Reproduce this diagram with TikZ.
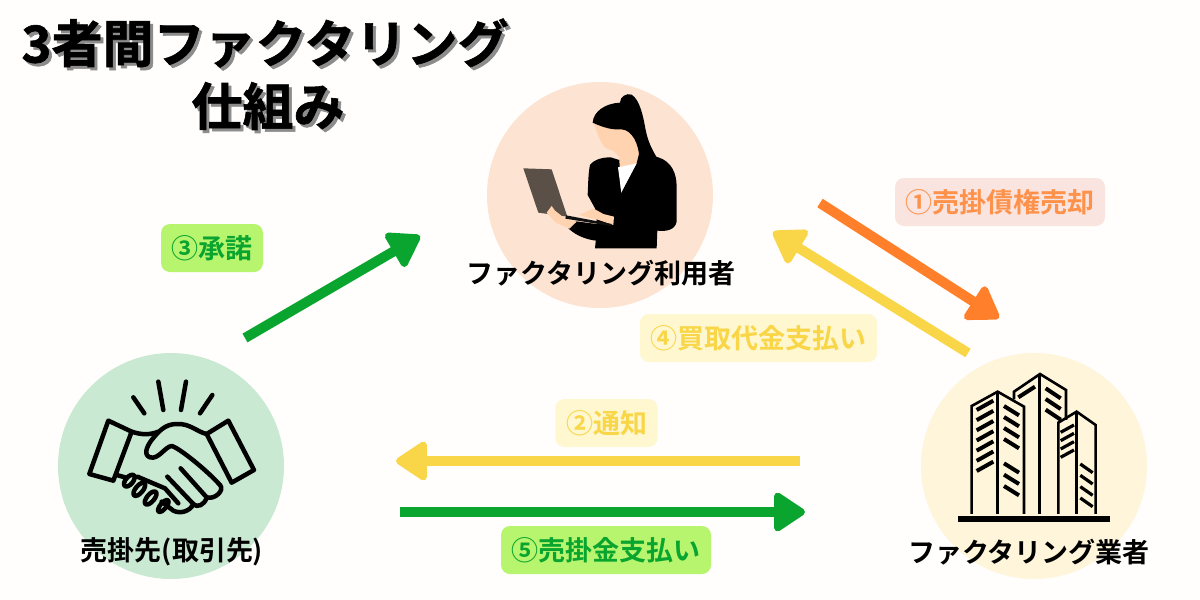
\documentclass[tikz,border=0pt]{standalone}
\usepackage{fontspec}
\setmainfont{Noto Sans CJK JP}[BoldFont={Noto Sans CJK JP Bold}]
\newfontfamily\titlefont{Noto Sans CJK JP Bold}[FakeBold=1.2]
\usetikzlibrary{arrows.meta}
\definecolor{bgc}{HTML}{FFFEFC}
\definecolor{peach}{HTML}{FDE3D2}
\definecolor{mint}{HTML}{C9E9D2}
\definecolor{cream}{HTML}{FEF5DA}
\definecolor{orangeA}{HTML}{FF7F2A}
\definecolor{yellowA}{HTML}{F9D648}
\definecolor{greenA}{HTML}{0AA52F}
\definecolor{pinkB}{HTML}{F9E4E0}
\definecolor{yellowB}{HTML}{FEF7CF}
\definecolor{greenB}{HTML}{B8F56E}
\definecolor{skin}{HTML}{FFD2B0}
\definecolor{lap}{HTML}{5A5048}
\tikzset{
 disc/.style={circle,minimum size=226pt,inner sep=0pt,draw=none},
 tag/.style={rounded corners=9pt,inner sep=0pt,minimum height=48pt,font=\fontsize{27}{27}\selectfont\bfseries},
 who/.style={inner sep=0pt,font=\fontsize{27}{27}\selectfont\bfseries,text=black},
 bigarrow/.style={line width=10pt,-{Triangle[round,length=34pt,width=43pt,line width=7pt]}},
 titletext/.style={inner sep=0pt,font=\fontsize{51}{51}\selectfont\titlefont},
 ink/.style={draw=black,line width=#1,line cap=round,line join=round},
 win/.style={draw=black,line width=4pt},
 wall/.style={draw=black,line width=2.6pt,line join=miter}
}
\begin{document}
\begin{tikzpicture}[x=1pt,y=-1pt]
\useasboundingbox (0,0) rectangle (1200,600);
\fill[bgc] (0,0) rectangle (1200,600);
% discs
\node[disc,fill=peach] (user) at (600,195) {};
\node[disc,fill=mint] (client) at (171,466) {};
\node[disc,fill=cream] (factor) at (1034,466) {};
% woman
\begin{scope}[shift={(480,80)},x=.3333pt,y=-.3333pt]
\fill[skin] (340,125) -- (420,120) -- (475,170) -- (478,250) -- (420,262) -- (418,232) .. controls (405,212) and (395,210) .. (385,208) .. controls (365,200) and (355,170) .. (340,125) -- cycle;
\fill[black] (338,128) .. controls (340,95) and (375,70) .. (420,68) .. controls (420,50) and (440,38) .. (455,44) .. controls (480,60) and (490,110) .. (497,150) .. controls (505,190) and (520,215) .. (535,240) -- (478,240) .. controls (478,190) and (455,150) .. (425,148) .. controls (400,150) and (375,145) .. (338,128) -- cycle;
\fill[black] (330,255) .. controls (345,235) and (375,232) .. (392,232) -- (418,240) -- (423,340) -- (470,250) -- (478,218) -- (535,232) .. controls (575,245) and (590,280) .. (590,320) -- (590,425) .. controls (585,450) and (560,455) .. (532,452) -- (530,505) -- (345,505) -- (352,435) -- (345,385) -- (323,345) .. controls (325,300) and (325,280) .. (330,255) -- cycle;
\fill[black] (288,424) -- (395,438) -- (400,500) -- (350,482) .. controls (320,480) and (285,465) .. (265,445) -- cycle;
\fill[white] (414,262) -- (470,250) -- (424,336) -- cycle;
\fill[lap] (130,265) -- (215,268) -- (262,410) -- (175,398) -- cycle;
\fill[skin] (200,398) -- (215,378) -- (225,392) -- (258,418) -- (290,425) -- (268,446) -- (228,428) -- cycle;
\fill[skin] (298,405) -- (340,385) -- (370,402) -- (402,410) -- (400,435) -- (350,418) -- (320,412) -- cycle;
\fill[black!80!lap] (258,406) -- (395,432) -- (392,438) -- (256,416) -- cycle;
\end{scope}
% handshake
\begin{scope}[shift={(50,360)},x=.3333pt,y=-.3333pt]
\begin{scope}[ink=4.5pt]
\draw (250,112) -- (283,160);
\draw (325,65) -- (340,150);
\draw (408,65) -- (393,150);
\draw (487,105) -- (450,160);
\draw (175,182) -- (245,215) -- (190,362) -- (118,342) -- cycle;
\draw (535,182) -- (612,330) -- (545,368) -- (470,222) -- cycle;
\draw (245,215) .. controls (275,225) and (300,225) .. (325,215);
\draw (470,222) .. controls (440,215) and (420,190) .. (380,192) .. controls (345,192) and (325,215) .. (305,240) .. controls (290,260) and (280,285) .. (300,292) .. controls (325,300) and (345,260) .. (365,258) .. controls (385,262) and (470,330) .. (510,375);
\draw (510,375) .. controls (525,390) and (495,420) .. (470,412) -- (392,325);
\draw (470,412) .. controls (465,435) and (440,445) .. (430,432) -- (352,350);
\draw (430,432) .. controls (420,455) and (390,462) .. (370,452) -- (335,425);
\draw (200,345) -- (225,352);
\draw (262,350) -- (345,385) -- (385,430);
\draw[rotate around={50:(238,362)}] (238,362) ellipse [x radius=21,y radius=11];
\draw[rotate around={50:(268,388)}] (268,388) ellipse [x radius=24,y radius=11];
\draw[rotate around={50:(302,414)}] (302,414) ellipse [x radius=24,y radius=11];
\draw[rotate around={50:(340,438)}] (340,438) ellipse [x radius=22,y radius=9];
\end{scope}
\end{scope}
% buildings
\begin{scope}[shift={(910,360)},x=.3333pt,y=-.3333pt]
\draw[wall] (185,462) -- (185,138) -- (263,95) -- (342,140) -- (342,462);
\draw[line width=3pt] (263,95) -- (263,462);
\draw[wall] (312,118) -- (312,95) -- (390,42) -- (468,90) -- (468,180);
\draw[line width=3pt] (390,42) -- (390,462);
\draw[wall] (445,462) -- (445,188) -- (500,155) -- (557,195) -- (557,462);
\draw[line width=3pt] (500,155) -- (500,462);
\foreach \d in {0,1,2,3,4,5,6} \draw[win] (200,150+30.5*\d) -- (250,122+30.5*\d);
\foreach \d in {0,1,2,3} \draw[win] (282,138+33*\d) -- (327,166+33*\d);
\foreach \d in {0,1,2} \draw[win] (282,310+34*\d) -- (327,338+34*\d);
\draw[win] (325,112) -- (375,80);
\foreach \d in {0,1,2} \draw[win] (407,85+32*\d) -- (452,115+32*\d);
\foreach \d in {0,1,2,3} \draw[line width=3.2pt] (452,217+25*\d) -- (492,195+25*\d);
\foreach \d in {0,1,2,3} \draw[line width=3.2pt] (511,312+34*\d) -- (548,338+34*\d);
\fill[black] (143,468) rectangle (600,485);
\end{scope}
% who labels
\node[who] (userL) at (601,273) {ファクタリング利用者};
\node[who] (clientL) at (172,552) {売掛先(取引先)};
\node[who] (factorL) at (1029,552) {ファクタリング業者};
% tags
\node[tag,fill=pinkB,text=orangeA!85!white,minimum width=210pt] (t1) at (1000,202) {①売掛債権売却};
\node[tag,fill=yellowB,text=yellowA,minimum width=102pt] (t2) at (606.5,423) {②通知};
\node[tag,fill=greenB,text=greenA,minimum width=102pt] (t3) at (212,248) {③承諾};
\node[tag,fill=yellowB,text=yellowA,minimum width=237pt] (t4) at (758.5,338) {④買取代金支払い};
\node[tag,fill=greenB,text=greenA,minimum width=210pt] (t5) at (606,550) {⑤売掛金支払い};
% arrow ends
\coordinate (a1s) at (820,203); \coordinate (a1e) at (999,318);
\coordinate (a4s) at (968,353); \coordinate (a4e) at (773,232);
\coordinate (a3s) at (245,338); \coordinate (a3e) at (420,236);
\coordinate (a2s) at (800,461); \coordinate (a2e) at (396,461);
\coordinate (a5s) at (400,512); \coordinate (a5e) at (805,512);
\draw[bigarrow,draw=orangeA,fill=orangeA] (a1s) -- (a1e);
\draw[bigarrow,draw=yellowA,fill=yellowA] (a4s) -- (a4e);
\draw[bigarrow,draw=greenA,fill=greenA] (a3s) -- (a3e);
\draw[bigarrow,draw=yellowA,fill=yellowA] (a2s) -- (a2e);
\draw[bigarrow,draw=greenA,fill=greenA] (a5s) -- (a5e);
% title
\node[titletext,text=black!45] (title1s) at (268,46) {3者間ファクタリング};
\node[titletext,text=black!45] (title2s) at (271,109) {仕組み};
\node[titletext,text=black] (title1) at (265,43) {3者間ファクタリング};
\node[titletext,text=black] (title2) at (268,106) {仕組み};
\end{tikzpicture}
\end{document}
